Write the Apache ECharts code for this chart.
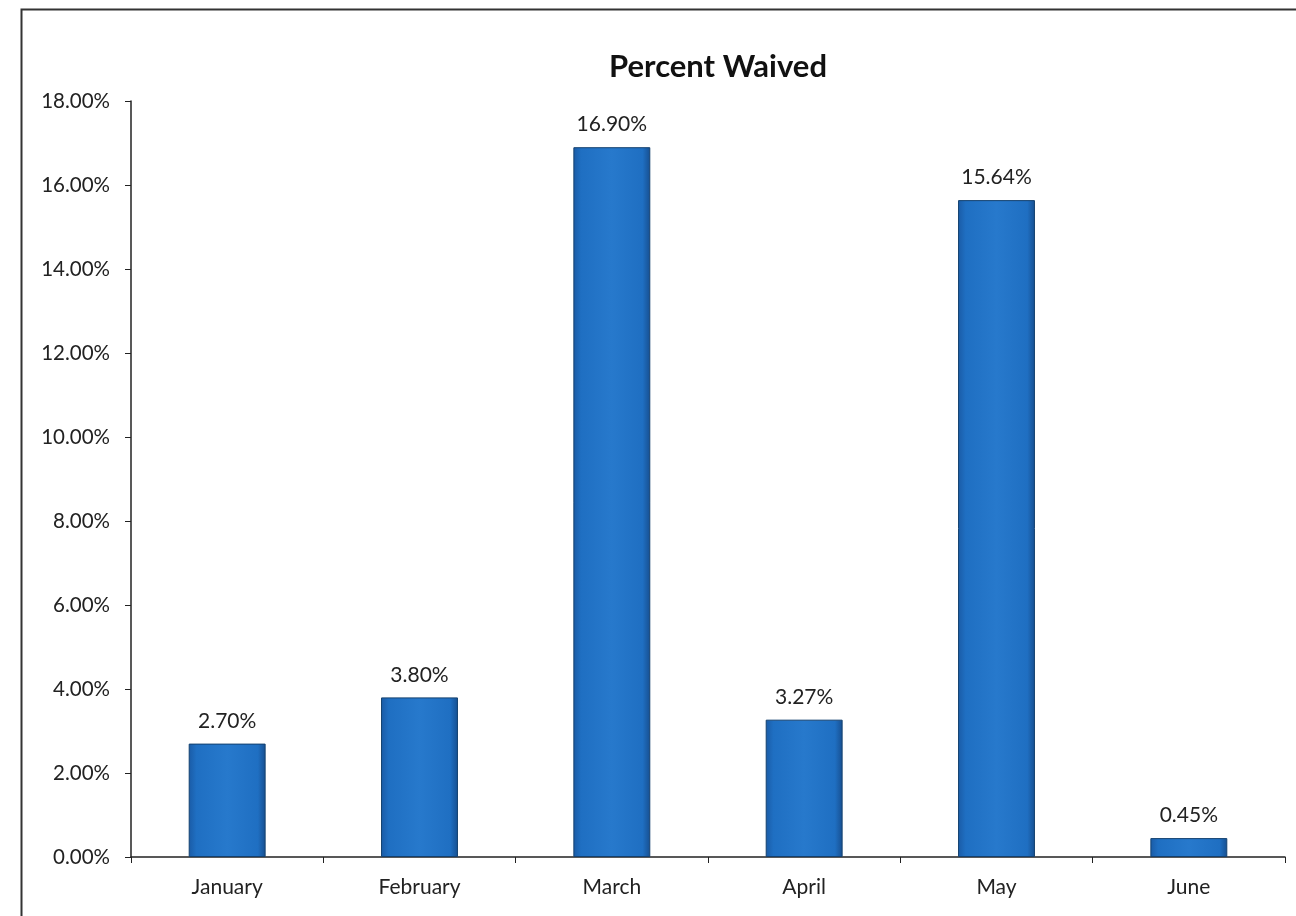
<!DOCTYPE html>
<html>
<head>
<meta charset="utf-8">
<title>Percent Waived</title>
<script src="https://cdn.jsdelivr.net/npm/echarts@6/dist/echarts.min.js"></script>
<style>
  html, body { margin: 0; padding: 0; background: #fff; }
  #chart { width: 1296px; height: 916px; }
</style>
</head>
<body>
<div id="chart"></div>
<script>
const months = ["January", "February", "March", "April", "May", "June"];
const percentWaived = [2.70, 3.80, 16.90, 3.27, 15.64, 0.45];
const yTicks = { min: 0, max: 18, step: 2 };

const FONT = "Lato, 'Open Sans', sans-serif";

const chart = echarts.init(document.getElementById("chart"));

chart.setOption({
  backgroundColor: "#ffffff",
  animation: false,
  title: {
    text: "Percent Waived",
    left: 713,
    top: 46,
    textAlign: "center",
    textStyle: { fontFamily: FONT, fontSize: 31, fontWeight: "bold", color: "#111" },
  },
  graphic: [{
    type: "rect",
    shape: { x: 21.5, y: 9.5, width: 1300, height: 920 },
    style: { fill: "none", stroke: "#333", lineWidth: 2 },
    silent: true,
  }],
  grid: { left: 131, right: 11, top: 101, bottom: 59 },
  xAxis: {
    type: "category",
    data: months,
    axisLine: { lineStyle: { color: "#222", width: 1.5 } },
    axisTick: { show: true, length: 6, alignWithLabel: false, lineStyle: { color: "#222" } },
    axisLabel: { fontFamily: FONT, fontSize: 21, color: "#222", margin: 20 },
  },
  yAxis: {
    type: "value",
    min: yTicks.min,
    max: yTicks.max,
    interval: yTicks.step,
    splitLine: { show: false },
    axisLine: { show: true, lineStyle: { color: "#222", width: 1.5 } },
    axisTick: { show: true, length: 6, inside: false, lineStyle: { color: "#222" } },
    axisLabel: {
      fontFamily: FONT, fontSize: 20.5, color: "#222", margin: 21,
      formatter: (v) => v.toFixed(2) + "%",
    },
  },
  series: [{
    type: "bar",
    data: percentWaived,
    barWidth: "40%",
    itemStyle: {
      color: new echarts.graphic.LinearGradient(0, 0, 1, 0, [
        { offset: 0, color: "#1a5ba6" },
        { offset: 0.1, color: "#1f6fc2" },
        { offset: 0.5, color: "#2779cc" },
        { offset: 0.9, color: "#1f6fc2" },
        { offset: 1, color: "#174f90" },
      ]),
      borderColor: "#13406f",
      borderWidth: 1,
    },
    label: {
      show: true,
      position: "top",
      distance: 12,
      fontFamily: FONT,
      fontSize: 21,
      color: "#222",
      formatter: (p) => p.value.toFixed(2) + "%",
    },
  }],
});
</script>
</body>
</html>
